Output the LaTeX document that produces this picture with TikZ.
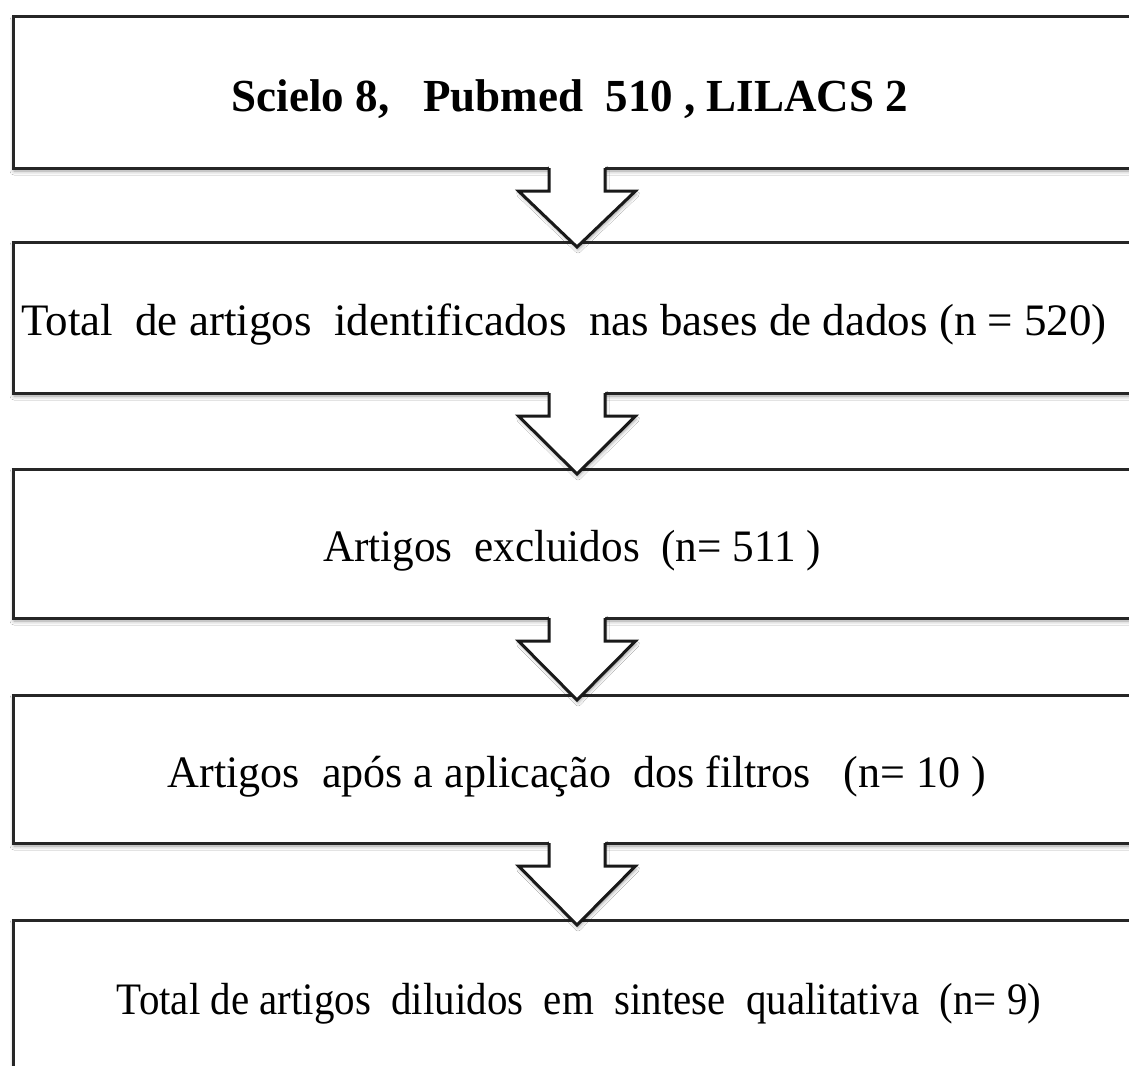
\documentclass[tikz,border=0pt]{standalone}
\usepackage{fontspec}
\usepackage{graphicx}
\setmainfont{Liberation Serif}
\usetikzlibrary{shadows.blur}
\newcommand\flowarrow[2]{%
  \fill[white, blur shadow={shadow xshift=1pt, shadow yshift=-3pt, shadow blur radius=3pt, shadow opacity=35}]
    ([xshift=-23pt,yshift=2pt]#1.south) -- ([xshift=-23pt,yshift=-23pt]#1.south)
    -- ([xshift=-53.5pt,yshift=-23pt]#1.south) -- ([xshift=5pt,yshift=-5pt]#2.north)
    -- ([xshift=63.5pt,yshift=-23pt]#1.south) -- ([xshift=33pt,yshift=-23pt]#1.south)
    -- ([xshift=33pt,yshift=2pt]#1.south) -- cycle;
  \draw[arrowline]
    ([xshift=-23pt]#1.south) -- ([xshift=-23pt,yshift=-23pt]#1.south)
    -- ([xshift=-53.5pt,yshift=-23pt]#1.south) -- ([xshift=5pt,yshift=-5pt]#2.north)
    -- ([xshift=63.5pt,yshift=-23pt]#1.south) -- ([xshift=33pt,yshift=-23pt]#1.south)
    -- ([xshift=33pt]#1.south);
}
\begin{document}
\begin{tikzpicture}[x=1pt,y=-1pt,
  flowbox/.style={draw=black!85, line width=3pt, fill=white, outer sep=0pt, inner sep=0pt,
    minimum width=1118pt,
    blur shadow={shadow xshift=1pt, shadow yshift=-3pt, shadow blur radius=4pt, shadow opacity=40}},
  boxtext/.style={anchor=base, inner sep=0pt, font=\fontsize{45}{54}\selectfont},
  arrowline/.style={draw=black!90, line width=3pt, line join=miter}]
\useasboundingbox (0,0) rectangle (1129,1065);
\fill[white] (0,0) rectangle (1129,1065);
\node[flowbox, minimum height=151pt] (b1) at (572,92.5) {};
\node[flowbox, minimum height=151pt] (b2) at (572,317.5) {};
\node[flowbox, minimum height=149pt] (b3) at (572,543.5) {};
\node[flowbox, minimum height=148pt] (b4) at (572,769) {};
\node[flowbox, minimum height=152pt] (b5) at (572,996) {};
\node[boxtext] (t1) at (570,111) {\scalebox{1.0}[1.02]{\bfseries Scielo 8,~~~Pubmed~~510 , LILACS 2}};
\node[boxtext] (t2) at (564,335.5) {\scalebox{1.0}[1]{Total~~de artigos~~identificados~~nas bases de dados (n = 520)}};
\node[boxtext] (t3) at (572,561.5) {\scalebox{0.96}[1]{Artigos~~excluidos~~(n= 511 )}};
\node[boxtext] (t4) at (577,787) {\scalebox{0.98}[1]{Artigos~~após a aplicação~~dos filtros~~~(n= 10 )}};
\node[boxtext] (t5) at (579,1014) {\scalebox{0.91}[1]{Total de artigos~~diluidos~~em~~sintese~~qualitativa~~(n= 9)}};
\flowarrow{b1}{b2}
\flowarrow{b2}{b3}
\flowarrow{b3}{b4}
\flowarrow{b4}{b5}
\end{tikzpicture}
\end{document}
